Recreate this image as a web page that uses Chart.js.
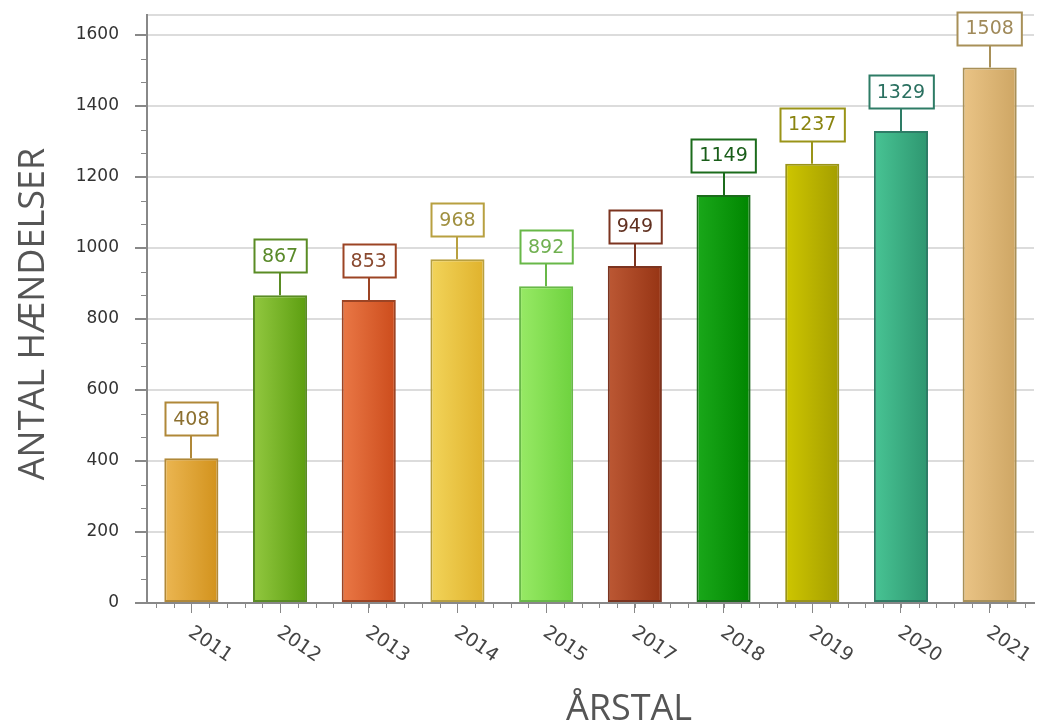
<!DOCTYPE html>
<html>
<head>
<meta charset="utf-8">
<script src="https://cdn.jsdelivr.net/npm/chart.js@4.4.1/dist/chart.umd.min.js"></script>
<style>
  html, body { margin: 0; padding: 0; background: #fff; }
  #wrap { width: 1045px; height: 728px; }
</style>
</head>
<body>
<div id="wrap"><canvas id="canvas"></canvas></div>
<script>
const years = ["2011", "2012", "2013", "2014", "2015", "2017", "2018", "2019", "2020", "2021"];
const counts = [408, 867, 853, 968, 892, 949, 1149, 1237, 1329, 1508];
const yTicks = [0, 200, 400, 600, 800, 1000, 1200, 1400, 1600];

// light / dark side of each bar's gradient, outline colour, label text colour
const lightColors = ["#ebb652", "#92c840", "#ea7846", "#f2d45a", "#98ea66", "#bc5834", "#1aa81a", "#cec600", "#48c494", "#eac486"];
const darkColors = ["#d2921c", "#5c9e10", "#cc4c1c", "#e0b22c", "#6ed23e", "#963414", "#008600", "#a49e00", "#2e9670", "#cea664"];
const edgeColors = ["#b08838", "#5a8c24", "#9c4424", "#b8a040", "#68b848", "#7c3420", "#1c6c1c", "#9a9418", "#2e7c66", "#a89058"];
const textColors = ["#8c7030", "#5a8a2a", "#8a4a30", "#a09040", "#70b050", "#603020", "#1a5e1a", "#8a8410", "#2a7060", "#a08a5a"];

const BAR_SHARE = 0.61;

const ctx = document.getElementById("canvas");

function barGradient(context) {
  const chart = context.chart;
  const xs = chart.scales.x;
  const i = context.dataIndex;
  if (!chart.chartArea || !xs || i === undefined) return lightColors[i || 0];
  const cx = xs.getPixelForValue(i);
  const half = ((xs.width / years.length) * BAR_SHARE) / 2;
  if (!Number.isFinite(cx) || !Number.isFinite(half)) return lightColors[i];
  const g = chart.ctx.createLinearGradient(cx - half, 0, cx + half, 0);
  g.addColorStop(0, lightColors[i]);
  g.addColorStop(1, darkColors[i]);
  return g;
}

// minor ticks, rotated year labels, value boxes and axis titles
const decorations = {
  id: "decorations",
  afterDraw(chart) {
    const c = chart.ctx;
    const x = chart.scales.x;
    const y = chart.scales.y;
    const area = chart.chartArea;
    c.save();

    // minor ticks on y
    c.strokeStyle = "#888";
    c.lineWidth = 1;
    for (let i = 0; i < yTicks.length; i++) {
      for (let k = 1; k < 3; k++) {
        const v = yTicks[i] + (200 / 3) * k;
        const py = Math.round(y.getPixelForValue(v)) + 0.5;
        if (py < area.top) continue;
        c.beginPath();
        c.moveTo(area.left - 6, py);
        c.lineTo(area.left, py);
        c.stroke();
      }
    }

    // minor ticks on x
    const step = (x.getPixelForValue(1) - x.getPixelForValue(0)) / 5;
    for (let px = x.getPixelForValue(0) - step * 2; px <= area.right + 1; px += step) {
      const rx = Math.round(px) + 0.5;
      c.beginPath();
      c.moveTo(rx, area.bottom);
      c.lineTo(rx, area.bottom + 5);
      c.stroke();
    }

    // year labels, tilted downwards
    c.fillStyle = "#444";
    c.font = "19px 'DejaVu Sans'";
    c.textAlign = "left";
    c.textBaseline = "top";
    years.forEach((label, i) => {
      const px = x.getPixelForValue(i);
      c.save();
      c.translate(px + 4, area.bottom + 20);
      c.rotate(0.6);
      c.fillText(label, 0, 0);
      c.restore();
    });

    // value boxes above bars
    const meta = chart.getDatasetMeta(0);
    c.font = "19px 'DejaVu Sans'";
    c.textAlign = "center";
    c.textBaseline = "middle";
    meta.data.forEach((bar, i) => {
      const text = String(counts[i]);
      const w = c.measureText(text).width + 16;
      const h = 33;
      const bottom = bar.y - 23;
      const bx = Math.round(bar.x - w / 2) + 0.5;
      const by = Math.round(bottom - h) + 0.5;
      c.strokeStyle = edgeColors[i];
      c.lineWidth = 2;
      c.beginPath();
      c.moveTo(Math.round(bar.x), bottom);
      c.lineTo(Math.round(bar.x), bar.y);
      c.stroke();
      c.fillStyle = "#fff";
      c.fillRect(bx, by, w, h);
      c.strokeRect(bx, by, w, h);
      c.fillStyle = textColors[i];
      c.fillText(text, bar.x, bottom - h / 2 + 1);
    });

    // axis titles
    c.fillStyle = "#555";
    c.font = "36px 'Open Sans'";
    c.textAlign = "center";
    c.textBaseline = "middle";
    c.fillText("ÅRSTAL", 629, 710);
    c.save();
    c.translate(34, 314);
    c.rotate(-Math.PI / 2);
    c.fillText("ANTAL HÆNDELSER", 0, 0);
    c.restore();

    c.restore();
  },
};

const chart = new Chart(ctx, {
  type: "bar",
  data: {
    labels: years,
    datasets: [
      {
        label: "Antal hændelser",
        data: counts,
        backgroundColor: barGradient,
        borderColor: edgeColors,
        borderWidth: 2,
        borderSkipped: false,
        barPercentage: BAR_SHARE,
        categoryPercentage: 1,
      },
    ],
  },
  options: {
    responsive: true,
    maintainAspectRatio: false,
    animation: false,
    layout: { padding: { top: 15, right: 11, left: 0, bottom: 0 } },
    plugins: {
      legend: { display: false },
      tooltip: { enabled: false },
    },
    scales: {
      x: {
        grid: {
          offset: false,
          drawOnChartArea: false,
          drawTicks: true,
          tickLength: 10,
          tickColor: "#888",
        },
        border: { color: "#888", width: 2 },
        ticks: { display: false },
        afterFit(scale) {
          scale.height = 125;
        },
      },
      y: {
        min: 0,
        max: 1656,
        afterBuildTicks(scale) {
          scale.ticks = yTicks.concat([1656]).map((v) => ({ value: v }));
        },
        grid: {
          color: "#dcdcdc",
          lineWidth: 2,
          drawTicks: true,
          tickLength: 12,
          tickColor: (c) => (c.tick && c.tick.value === 1656 ? "rgba(0,0,0,0)" : "#888"),
        },
        border: { color: "#888", width: 2 },
        ticks: {
          color: "#333",
          font: { family: "'DejaVu Sans'", size: 17 },
          padding: 16,
          callback: (v) => (v === 1656 ? "" : v),
        },
        afterFit(scale) {
          scale.width = 147;
          scale.paddingTop = 0;
          scale.paddingBottom = 0;
        },
      },
    },
  },
  plugins: [decorations],
});
</script>
</body>
</html>
